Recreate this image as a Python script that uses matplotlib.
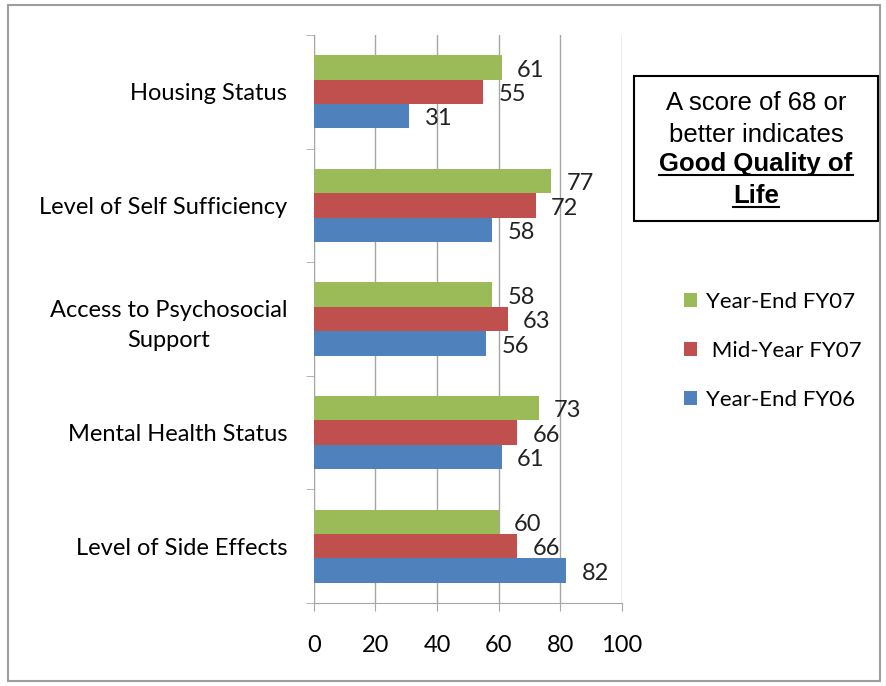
import numpy as np
import matplotlib.pyplot as plt
from matplotlib.patches import Rectangle
from matplotlib.lines import Line2D

# Quality of life scores by domain
categories = ["Level of Side Effects", "Mental Health Status",
              "Access to Psychosocial\nSupport", "Level of Self Sufficiency",
              "Housing Status"]
ye_fy06 = [82, 61, 56, 58, 31]
mid_fy07 = [66, 66, 63, 72, 55]
ye_fy07 = [60, 73, 58, 77, 61]
series_names = ["Year-End FY07", " Mid-Year FY07", "Year-End FY06"]
x_ticks = [0, 20, 40, 60, 80, 100]

GREEN = "#9BBB59"
RED = "#C0504D"
BLUE = "#4F81BD"
GRID = "#A6A6A6"
FONT = "Lato"
FS = 17

fig = plt.figure(figsize=(8.86, 6.86), dpi=100)
ax = fig.add_axes([0.354, 0.121, 0.348, 0.828])

y = np.arange(len(categories))
h = 0.215
ax.barh(y + h, ye_fy07, height=h, color=GREEN, label=series_names[0], zorder=3)
ax.barh(y, mid_fy07, height=h, color=RED, label=series_names[1], zorder=3)
ax.barh(y - h, ye_fy06, height=h, color=BLUE, label=series_names[2], zorder=3)

# value labels to the right of each bar
for off, vals in ((h, ye_fy07), (0, mid_fy07), (-h, ye_fy06)):
    for yi, v in zip(y, vals):
        ax.annotate(str(v), (v, yi + off), xytext=(11, -2),
                    textcoords="offset points", va="center", ha="left",
                    fontsize=FS, family=FONT, color="#222222")

ax.set_xlim(0, 100)
ax.set_ylim(-0.5, len(categories) - 0.5)
ax.set_xticks(x_ticks)
ax.set_xticklabels([str(t) for t in x_ticks], family=FONT, fontsize=FS)
ax.set_yticks(y)
ax.set_yticklabels(categories, family=FONT, fontsize=FS, linespacing=1.55,
                   multialignment="center")
ax.set_yticks(np.arange(len(categories) + 1) - 0.5, minor=True)

ax.tick_params(axis="y", which="major", length=0, pad=19)
ax.tick_params(axis="y", which="minor", length=6, color=GRID, direction="out")
ax.tick_params(axis="x", length=6, color=GRID, direction="out", pad=17)

ax.grid(axis="x", color=GRID, lw=1, zorder=0)
for s in ("top", "right"):
    ax.spines[s].set_visible(False)
for s in ("left", "bottom"):
    ax.spines[s].set_color(GRID)

leg = ax.legend(loc="upper left", bbox_to_anchor=(673 / 886, 1 - 281 / 686),
                bbox_transform=fig.transFigure, frameon=False, borderpad=0,
                prop={"family": FONT, "size": 16}, handlelength=0.6,
                handleheight=0.6, handletextpad=0.4, labelspacing=1.3)

# outer chart border
fig.patches.append(Rectangle((0.009, 0.008), 0.984, 0.985, transform=fig.transFigure,
                             fill=False, edgecolor="#9E9E9E", lw=1.5))

# note box
bx0, by0, bx1, by1 = 634 / 886, 1 - 221 / 686, 878 / 886, 1 - 76 / 686
fig.patches.append(Rectangle((bx0, by0), bx1 - bx0, by1 - by0, transform=fig.transFigure,
                             fill=False, edgecolor="black", lw=1.5))
cx = (bx0 + bx1) / 2
lines = [("A score of 68 or", "normal", 103),
         ("better indicates", "normal", 135),
         ("Good Quality of", "bold", 164),
         ("Life", "bold", 196)]
txts = []
for s, w, py in lines:
    t = fig.text(cx, 1 - py / 686, s, ha="center", va="center", fontsize=18.5,
                 family="Liberation Sans", weight=w)
    txts.append((t, w))

fig.canvas.draw()
r = fig.canvas.get_renderer()
for t, w in txts:
    if w != "bold":
        continue
    bb = t.get_window_extent(r).transformed(fig.transFigure.inverted())
    uy = bb.y0 + 0.002
    fig.lines.append(Line2D([bb.x0, bb.x1], [uy, uy], transform=fig.transFigure,
                            color="black", lw=1.5))

fig.savefig("out.png", dpi=100)
